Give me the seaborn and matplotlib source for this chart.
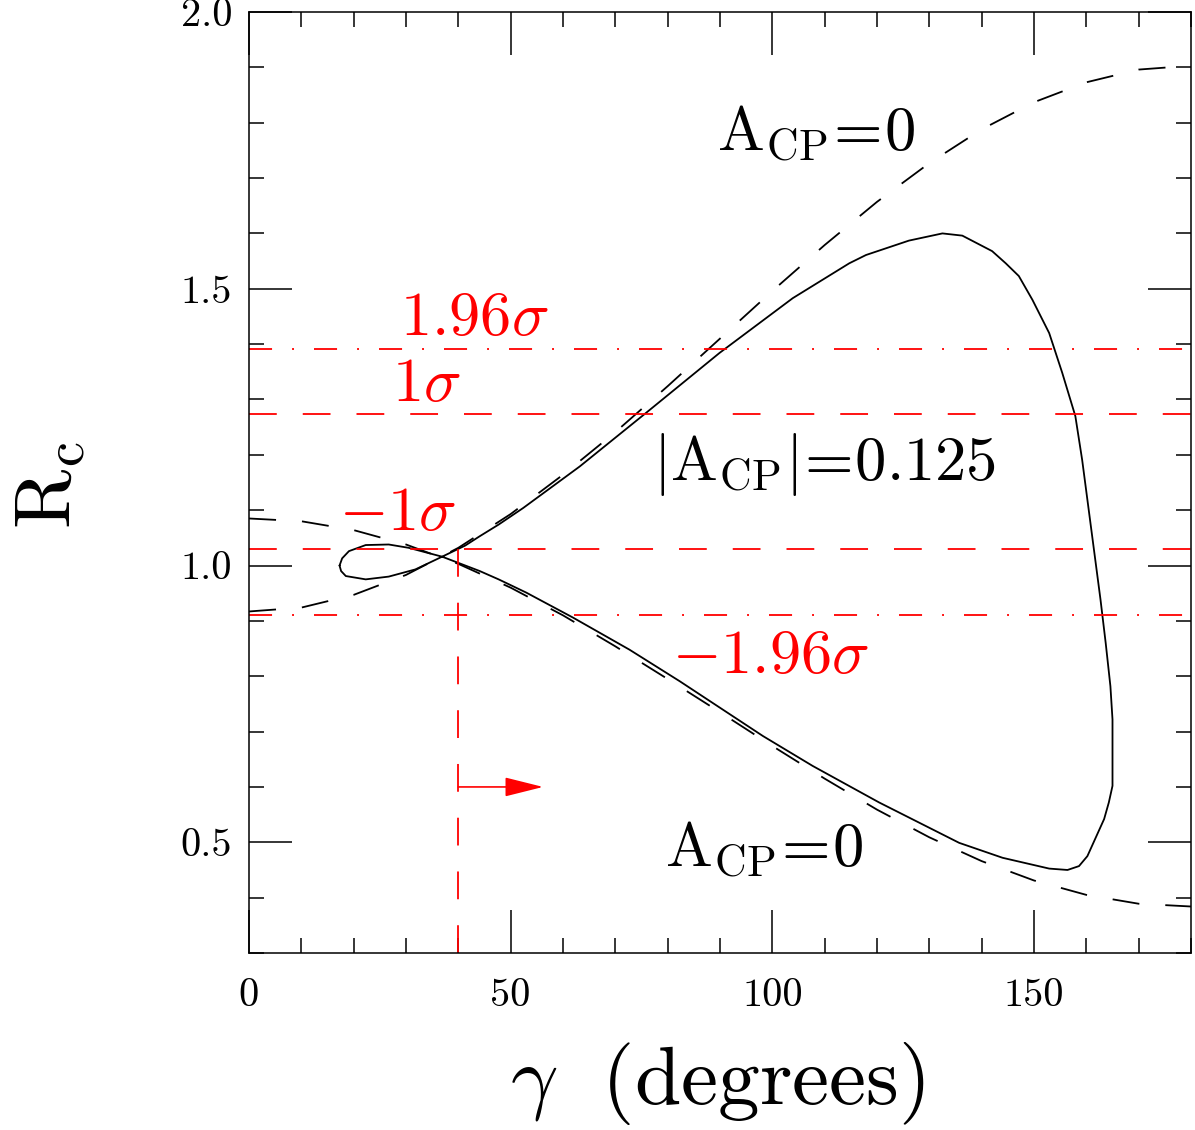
import numpy as np
import pandas as pd
import matplotlib
matplotlib.use("Agg")
import matplotlib.pyplot as plt
import seaborn as sns
from matplotlib.ticker import MultipleLocator

# ---------------- data ----------------
# A_CP = 0 curves (dashed)
gamma_grid = [0, 10, 20, 30, 40, 50, 60, 70, 80, 90, 100, 110, 120, 130, 140, 150, 160, 170, 180]
acp0_upper = [0.917, 0.924, 0.947, 0.983, 1.032, 1.093, 1.164, 1.241, 1.324, 1.410,
              1.496, 1.579, 1.657, 1.727, 1.788, 1.837, 1.873, 1.896, 1.903]
acp0_lower = [1.085, 1.080, 1.064, 1.038, 1.003, 0.960, 0.910, 0.854, 0.795, 0.735,
              0.674, 0.615, 0.559, 0.509, 0.466, 0.431, 0.405, 0.389, 0.384]

# |A_CP| = 0.125 closed contour (solid), in drawing order
acp125_gamma = [17.3, 17.8, 19.1, 22.3, 26.7, 30.5, 36.9, 44.1, 47.7, 53.0, 61.9, 72.7, 82.3,
                98.2, 107.7, 120.4, 135.7, 144.0, 152.9, 156.4, 158.6, 160.2, 163.4,
                164.3, 165.0, 165.0, 164.6, 163.7, 162.7, 160.2, 159.2, 157.9, 155.4,
                152.9, 151.3, 149.7, 147.1, 144.6, 142.0, 136.3, 132.5, 126.1, 117.9,
                114.7, 103.9, 89.9, 75.9, 63.2, 52.4, 47.7, 44.1, 41.3, 36.9, 31.8,
                26.7, 22.3, 18.5, 17.6, 17.3]
acp125_rc = [1.000, 1.013, 1.026, 1.037, 1.038, 1.032, 1.016, 0.990, 0.975, 0.951, 0.906, 0.848, 0.791,
             0.692, 0.638, 0.572, 0.499, 0.472, 0.4525, 0.450, 0.457, 0.475, 0.542,
             0.572, 0.602, 0.722, 0.782, 0.860, 0.939, 1.119, 1.191, 1.270, 1.348,
             1.420, 1.450, 1.480, 1.523, 1.546, 1.568, 1.596, 1.600, 1.587, 1.561,
             1.546, 1.483, 1.384, 1.276, 1.179, 1.104, 1.074, 1.053, 1.036, 1.016, 0.993,
             0.980, 0.975, 0.981, 0.990, 1.000]

# experimental bands (red)
band_values = [1.392, 1.273, 1.029, 0.911]
band_labels = [r"$1.96\sigma$", r"$1\sigma$", r"$-1\sigma$", r"$-1.96\sigma$"]
band_kinds = ["dashdot", "dash", "dash", "dashdot"]
band_label_x = [43.1, 33.8, 28.4, 99.6]
band_label_y = [1.417, 1.297, 1.065, 0.805]

gamma_bound = 40.0
arrow_end = 56.2
arrow_y = 0.60

x_ticks = [0, 50, 100, 150]
x_ticklabels = ["0", "50", "100", "150"]
y_ticks = [0.5, 1.0, 1.5, 2.0]
y_ticklabels = ["0.5", "1.0", "1.5", "2.0"]

curve_labels = [r"$\mathrm{A}_{\mathrm{CP}}\!=\!0$", r"$|\mathrm{A}_{\mathrm{CP}}|\!=\!0.125$",
                r"$\mathrm{A}_{\mathrm{CP}}\!=\!0$"]
curve_label_x = [108.3, 110.0, 98.5]
curve_label_y = [1.751, 1.155, 0.457]

# ---------------- style ----------------
sns.set_style("ticks")
plt.rcParams.update({
    "font.family": ["cmr10"],
    "mathtext.fontset": "cm",
    "axes.formatter.use_mathtext": True,
    "lines.scale_dashes": False,
    "axes.edgecolor": "black",
    "axes.linewidth": 1.1,
    "xtick.color": "black",
    "ytick.color": "black",
    "text.color": "black",
    "axes.labelcolor": "black",
})

W, H = 1195, 1130
fig = plt.figure(figsize=(W / 100, H / 100), dpi=100)
ax = fig.add_axes([249 / W, 1 - 953 / H, 942 / W, 941 / H])

black_dash = (0, (19.5, 18.7))
red_dash = (0, (20.0, 18.7))
red_dashdot = (0, (16.6, 14.4, 1.4, 14.4))

# dashed A_CP = 0 curves
df_up = pd.DataFrame({"gamma": gamma_grid, "rc": acp0_upper})
df_lo = pd.DataFrame({"gamma": gamma_grid, "rc": acp0_lower})
sns.lineplot(data=df_up, x="gamma", y="rc", sort=False, estimator=None,
             color="black", lw=1.3, ax=ax)
ax.lines[-1].set_linestyle(black_dash)
sns.lineplot(data=df_lo, x="gamma", y="rc", sort=False, estimator=None,
             color="black", lw=1.3, ax=ax)
ax.lines[-1].set_linestyle(black_dash)

# solid |A_CP| = 0.125 contour
df_c = pd.DataFrame({"gamma": acp125_gamma, "rc": acp125_rc})
sns.lineplot(data=df_c, x="gamma", y="rc", sort=False, estimator=None,
             color="black", lw=1.3, ax=ax)

# red bands
for v, kind in zip(band_values, band_kinds):
    ax.axhline(v, color="red", lw=1.3,
               linestyle=red_dashdot if kind == "dashdot" else red_dash)
for lab, x, y in zip(band_labels, band_label_x, band_label_y):
    ax.text(x, y, lab, color="red", fontsize=45, ha="center", va="baseline")

# vertical bound and arrow
ax.vlines(gamma_bound, 0.3, band_values[2], color="red", lw=1.3, linestyles=[red_dash])
ax.annotate("", xy=(arrow_end, arrow_y), xytext=(gamma_bound, arrow_y),
            arrowprops=dict(arrowstyle="-|>,head_length=2.4,head_width=0.6",
                            color="red", lw=1.2, shrinkA=0, shrinkB=0,
                            mutation_scale=10))

# curve labels
for lab, x, y in zip(curve_labels, curve_label_x, curve_label_y):
    ax.text(x, y, lab, color="black", fontsize=45, ha="center", va="baseline")

# axes
ax.set_xlim(0, 180)
ax.set_ylim(0.3, 2.0)
ax.set_xticks(x_ticks)
ax.set_xticklabels(x_ticklabels)
ax.set_yticks(y_ticks)
ax.set_yticklabels(y_ticklabels)
ax.xaxis.set_minor_locator(MultipleLocator(10))
ax.yaxis.set_minor_locator(MultipleLocator(0.1))
ax.tick_params(which="both", direction="in", top=True, right=True, width=1.1,
               labelsize=29)
ax.tick_params(which="major", length=31)
ax.tick_params(which="minor", length=10.5)
ax.tick_params(axis="y", pad=12)
ax.tick_params(axis="x", pad=18)

ax.set_xlabel(r"$\gamma\ \ (\mathrm{degrees})$", fontsize=60, va="baseline")
ax.xaxis.set_label_coords(0.497, -0.160)
ax.set_ylabel(r"$\mathrm{R}_{\mathrm{c}}$", fontsize=58, va="center", ha="center")
ax.yaxis.set_label_coords(-0.211, 0.497)

fig.savefig("out.png", dpi=100)
